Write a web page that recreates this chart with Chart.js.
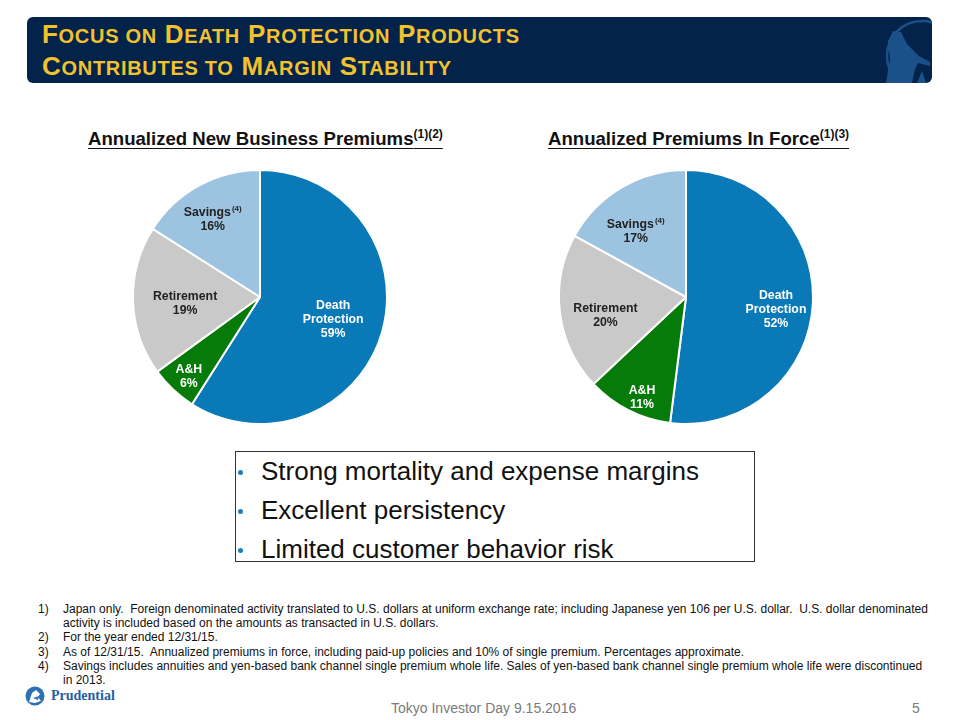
<!DOCTYPE html>
<html lang="en">
<head>
  <meta charset="UTF-8">
  <title>Focus on Death Protection Products</title>
  <script src="https://cdn.jsdelivr.net/npm/chart.js"></script>
  <style>
    body { margin: 0; width: 960px; height: 720px; position: relative; background: #fff; font-family: "Liberation Sans", Arial, sans-serif; overflow: hidden; }
    .header {
      position: absolute; left: 27px; top: 17px; width: 905px; height: 66px;
      background: #03234a; border-radius: 6px; overflow: hidden;
    }
    .header h1 {
      position: absolute; left: 15px; top: 2px; margin: 0; white-space: nowrap;
      font-weight: bold; font-size: 26px; line-height: 30px; letter-spacing: 0.7px; color: #f2c12e;
    }
    .header h1 small { font-size: 20px; }
    .header svg { position: absolute; right: 0; top: 0; }
    .ctitle {
      position: absolute; top: 127px; margin: 0; font-size: 18.6px; font-weight: bold;
      color: #111; text-decoration: underline; text-underline-offset: 3px; white-space: nowrap;
    }
    .ctitle sup { font-size: 12px; text-decoration: none; vertical-align: 7px; }
    canvas { position: absolute; }
    .box {
      position: absolute; left: 235px; top: 451px; width: 520px; height: 111px;
      border: 1px solid #333; box-sizing: border-box;
    }
    .box ul { list-style: none; margin: 0; padding: 0; }
    .box li { position: relative; font-size: 26px; line-height: 39px; padding-left: 25px; color: #111; white-space: nowrap; }
    .box li::before {
      content: ""; position: absolute; left: 2px; top: 18px; width: 5px; height: 5px;
      border-radius: 50%; background: #1a7fc0;
    }
    .notes {
      position: absolute; left: 38px; top: 602px; width: 893px; margin: 0; padding: 0;
      list-style: none; font-size: 12px; line-height: 14.2px; color: #111;
    }
    .notes li { position: relative; padding-left: 25px; }
    .notes li span { position: absolute; left: 0; }
    .footer { position: absolute; top: 700px; font-size: 14px; color: #7a7a7a; }
    .logo { position: absolute; left: 25px; top: 686px; height: 20px; }
    .logo svg { position: absolute; left: 0; top: 0; }
    .logo span { position: absolute; left: 26px; top: 2px; font-family: "Liberation Serif", serif; font-weight: bold; font-size: 14px; color: #2460a7; white-space: nowrap; }
  </style>
</head>
<body>
  <div class="header">
    <h1>F<small>OCUS ON</small> D<small>EATH</small> P<small>ROTECTION</small> P<small>RODUCTS</small><br>C<small>ONTRIBUTES TO</small> M<small>ARGIN</small> S<small>TABILITY</small></h1>
    <svg width="70" height="66" viewBox="0 0 70 66">
      <circle cx="60" cy="39" r="35" fill="none" stroke="#1a5189" stroke-width="2.5"/>
      <path d="M24 66 L28 42 L26 24 L31 14 L39 15 L45 27 L57 39 L68 45 L68 49 L56 46 L53 52 L50 66 Z" fill="#1a5189"/>
      <path d="M55 66 L60 54 L64 66 Z" fill="#1a5189"/>
    </svg>
  </div>

  <div class="ctitle" style="left:88px">Annualized New Business Premiums<sup>(1)(2)</sup></div>
  <div class="ctitle" style="left:548px">Annualized Premiums In Force<sup>(1)(3)</sup></div>

  <canvas id="leftPie" width="280" height="280" style="left:120px; top:157px"></canvas>
  <canvas id="rightPie" width="280" height="280" style="left:546px; top:157px"></canvas>

  <div class="box">
    <ul>
      <li>Strong mortality and expense margins</li>
      <li>Excellent persistency</li>
      <li>Limited customer behavior risk</li>
    </ul>
  </div>

  <ul class="notes">
    <li><span>1)</span>Japan only.&nbsp; Foreign denominated activity translated to U.S. dollars at uniform exchange rate; including Japanese yen 106 per U.S. dollar.&nbsp; U.S. dollar denominated activity is included based on the amounts as transacted in U.S. dollars.</li>
    <li><span>2)</span>For the year ended 12/31/15.</li>
    <li><span>3)</span>As of 12/31/15.&nbsp; Annualized premiums in force, including paid-up policies and 10% of single premium. Percentages approximate.</li>
    <li><span>4)</span>Savings includes annuities and yen-based bank channel single premium whole life. Sales of yen-based bank channel single premium whole life were discontinued in 2013.</li>
  </ul>

  <div class="logo">
    <svg width="20" height="20" viewBox="0 0 20 20"><circle cx="10" cy="10" r="9.5" fill="#2e6fb6"/><path d="M4 16 L7 7 L11 4 L15 8 L13 11 L16 15 L10 17 Z" fill="#fff"/><path d="M8 12 L14 10 L13 14 Z" fill="#2e6fb6"/></svg>
    <span>Prudential</span>
  </div>
  <div class="footer" style="left:391px">Tokyo Investor Day 9.15.2016</div>
  <div class="footer" style="left:912px">5</div>

  <script>
    // slice order, clockwise from 12 o'clock
    const categories = ['Death Protection', 'A&H', 'Retirement', 'Savings'];
    const newBusinessPct = [59, 6, 19, 16];
    const inForcePct = [52, 11, 20, 17];

    const sliceColors = ['#0a79b7', '#077b0a', '#c9c9c9', '#9cc3df'];
    const labelColors = ['#ffffff', '#ffffff', '#222222', '#222222'];
    // label lines per slice (superscript in second element)
    const labelLines = [
      [['Death'], ['Protection']],
      [['A&H']],
      [['Retirement']],
      [['Savings', '(4)']]
    ];

    const sliceLabels = {
      id: 'sliceLabels',
      afterDatasetsDraw(chart, args, opts) {
        const ctx = chart.ctx;
        const meta = chart.getDatasetMeta(0);
        const values = chart.data.datasets[0].data;
        ctx.save();
        ctx.textBaseline = 'middle';
        meta.data.forEach((arc, i) => {
          const mid = (arc.startAngle + arc.endAngle) / 2;
          const r = arc.outerRadius * opts.factors[i];
          const cx = arc.x + Math.cos(mid) * r + opts.nudge[i][0];
          const cy = arc.y + Math.sin(mid) * r + opts.nudge[i][1];
          const lines = labelLines[i].concat([[values[i] + '%']]);
          const lh = 14;
          let y = cy - (lines.length - 1) * lh / 2;
          ctx.fillStyle = labelColors[i];
          lines.forEach(parts => {
            ctx.font = 'bold 12.3px "Liberation Sans", Arial, sans-serif';
            const w1 = ctx.measureText(parts[0]).width;
            let w2 = 0;
            if (parts[1]) {
              ctx.font = 'bold 8px "Liberation Sans", Arial, sans-serif';
              w2 = ctx.measureText(parts[1]).width + 1;
            }
            const x0 = cx - (w1 + w2) / 2;
            ctx.textAlign = 'left';
            ctx.font = 'bold 12.3px "Liberation Sans", Arial, sans-serif';
            ctx.fillText(parts[0], x0, y);
            if (parts[1]) {
              ctx.font = 'bold 8px "Liberation Sans", Arial, sans-serif';
              ctx.fillText(parts[1], x0 + w1 + 1, y - 4);
            }
            y += lh;
          });
        });
        ctx.restore();
      }
    };

    function makePie(id, values, factors, nudge) {
      return new Chart(document.getElementById(id), {
        type: 'pie',
        data: {
          labels: categories,
          datasets: [{
            data: values,
            backgroundColor: sliceColors,
            borderColor: '#ffffff',
            borderWidth: 2
          }]
        },
        options: {
          responsive: false,
          animation: false,
          radius: 127,
          layout: { padding: 0 },
          plugins: {
            legend: { display: false },
            tooltip: { enabled: false },
            sliceLabels: { factors: factors, nudge: nudge }
          }
        },
        plugins: [sliceLabels]
      });
    }

    makePie('leftPie', newBusinessPct, [0.6, 0.83, 0.59, 0.74], [[0, 1], [1, 3], [0, 4], [-2, 5]]);
    makePie('rightPie', inForcePct, [0.71, 0.85, 0.655, 0.67], [[0, 7], [5, 4], [2, 8], [-7, 8]]);
  </script>
</body>
</html>
